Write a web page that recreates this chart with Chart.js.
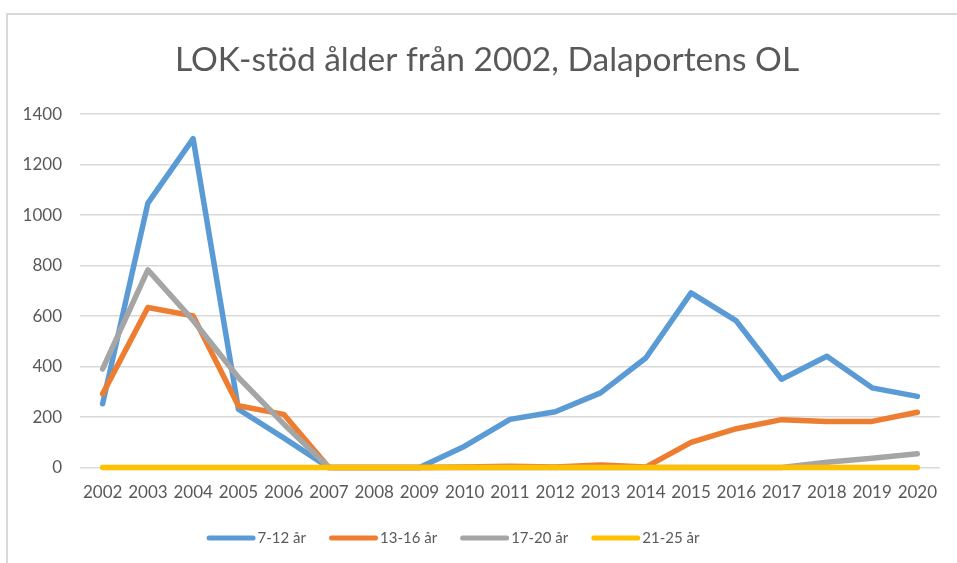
<!DOCTYPE html>
<html>
<head>
<meta charset="utf-8">
<script src="https://cdn.jsdelivr.net/npm/chart.js@4"></script>
<style>
    body { margin: 0; background: #fff; }
    canvas { display: block; }
</style>
</head>
<body>
<canvas id="lokChart" width="957" height="563"></canvas>
<script>
// data
const years = ['2002', '2003', '2004', '2005', '2006', '2007', '2008', '2009', '2010', '2011',
    '2012', '2013', '2014', '2015', '2016', '2017', '2018', '2019', '2020'];
const age7to12 = [253, 1048, 1303, 231, 118, 0, 0, 0, 85, 191, 221, 296, 434, 692, 581, 350, 441, 316, 282];
const age13to16 = [292, 634, 601, 245, 211, 0, 0, 0, 2, 5, 2, 10, 2, 100, 154, 190, 183, 183, 219];
const age17to20 = [391, 783, 583, 357, 173, 0, 0, 0, 0, 0, 0, 0, 0, 0, 0, 0, 21, 37, 55];
const age21to25 = [0, 0, 0, 0, 0, 0, 0, 0, 0, 0, 0, 0, 0, 0, 0, 0, 0, 0, 0];

const seriesLabels = ['7-12 år', '13-16 år', '17-20 år', '21-25 år'];
const seriesColours = ['#5B9BD5', '#ED7D31', '#A5A5A5', '#FFC000'];

const textColour = '#595959';
const gridColour = '#D9D9D9';
const fontFamily = 'Lato';

// light frame round the chart, like the Excel chart box
const framePlugin = {
    id: 'frame',
    beforeDraw(chart) {
        const ctx = chart.ctx;
        ctx.save();
        ctx.fillStyle = '#fff';
        ctx.fillRect(0, 0, chart.width, chart.height);
        ctx.strokeStyle = gridColour;
        ctx.lineWidth = 2;
        ctx.strokeRect(7, 14, 1000, 1000);
        ctx.restore();
    }
};

// Excel centres the title a bit right of the canvas centre
const titleNudge = {
    id: 'titleNudge',
    afterLayout(chart) {
        chart.titleBlock.left += 14;
    }
};

// legend drawn by hand so it sits where Excel put it (not centred on the canvas)
const excelLegend = {
    id: 'excelLegend',
    afterDraw(chart) {
        const ctx = chart.ctx;
        const lineLen = 49;
        const textGap = 2;
        const itemGap = 23;
        const centreX = 453;
        const y = 538;

        ctx.save();
        ctx.font = '15px ' + fontFamily;
        ctx.textBaseline = 'middle';
        ctx.textAlign = 'left';

        const items = chart.data.datasets.map(ds => ({
            text: ds.label,
            colour: ds.borderColor,
            width: lineLen + textGap + ctx.measureText(ds.label).width
        }));
        let total = items.reduce((sum, it) => sum + it.width, 0) + itemGap * (items.length - 1);
        let x = centreX - total / 2;

        items.forEach(it => {
            ctx.strokeStyle = it.colour;
            ctx.lineWidth = 5;
            ctx.lineCap = 'round';
            ctx.beginPath();
            ctx.moveTo(x + 2.5, y);
            ctx.lineTo(x + lineLen - 2.5, y);
            ctx.stroke();
            ctx.fillStyle = textColour;
            ctx.fillText(it.text, x + lineLen + textGap, y);
            x += it.width + itemGap;
        });
        ctx.restore();
    }
};

function makeDataset(i, values) {
    return {
        label: seriesLabels[i],
        data: values,
        borderColor: seriesColours[i],
        backgroundColor: seriesColours[i],
        borderWidth: 5.5,
        borderCapStyle: 'round',
        borderJoinStyle: 'round',
        pointRadius: 0,
        tension: 0,
        clip: false,
        // Excel draws the last series on top
        order: 3 - i
    };
}

const ctx = document.getElementById('lokChart').getContext('2d');
new Chart(ctx, {
    type: 'line',
    data: {
        labels: years,
        datasets: [
            makeDataset(0, age7to12),
            makeDataset(1, age13to16),
            makeDataset(2, age17to20),
            makeDataset(3, age21to25)
        ]
    },
    options: {
        responsive: false,
        animation: false,
        layout: {
            padding: { left: 20, right: 17, top: 0, bottom: 45 }
        },
        plugins: {
            title: {
                display: true,
                text: 'LOK-stöd ålder från 2002, Dalaportens OL',
                color: textColour,
                font: { family: fontFamily, size: 33.5, weight: 'normal' },
                padding: { top: 40, bottom: 34 }
            },
            legend: { display: false },
            tooltip: { enabled: false }
        },
        scales: {
            x: {
                offset: true,
                grid: { display: false, drawTicks: false },
                border: { display: false },
                ticks: {
                    color: textColour,
                    font: { family: fontFamily, size: 17 },
                    padding: 15,
                    maxRotation: 0,
                    autoSkip: false
                }
            },
            y: {
                min: 0,
                max: 1400,
                grid: { color: gridColour, lineWidth: 1.5, drawTicks: false },
                border: { display: false },
                ticks: {
                    stepSize: 200,
                    color: textColour,
                    font: { family: fontFamily, size: 17 },
                    padding: 18,
                    callback: value => String(value)
                },
                afterFit(scale) {
                    scale.width = 60;
                }
            }
        }
    },
    plugins: [framePlugin, titleNudge, excelLegend]
});
</script>
</body>
</html>
